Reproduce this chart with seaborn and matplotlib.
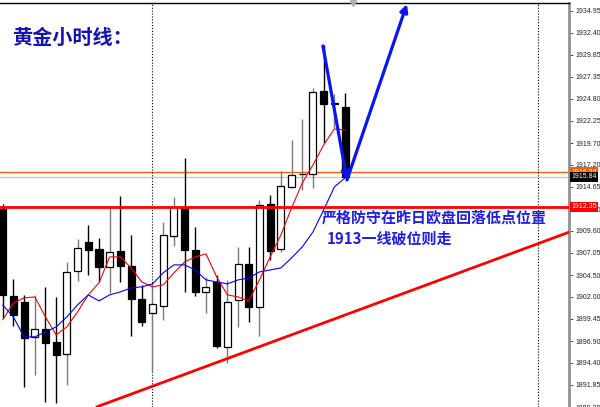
import numpy as np
import pandas as pd
import matplotlib
matplotlib.use("Agg")
import matplotlib.pyplot as plt
import matplotlib.transforms as mtransforms
import seaborn as sns

# ---------------- data ----------------
opens = [1912.12, 1902.10, 1901.41, 1897.38, 1898.30, 1896.80, 1895.42, 1904.98,
         1908.32, 1907.51, 1905.44, 1907.28, 1905.55, 1901.75, 1900.14, 1900.95,
         1909.01, 1912.23, 1907.40, 1902.56, 1903.71, 1896.23, 1901.64, 1905.78,
         1900.83, 1912.69, 1907.51, 1914.65, 1916.09, 1916.15, 1925.70, 1924.21,
         1923.86]
highs = [1912.69, 1904.06, 1902.22, 1902.22, 1903.14, 1901.98, 1906.01, 1908.66,
         1910.28, 1908.78, 1912.35, 1913.61, 1909.12, 1903.37, 1903.60, 1910.62,
         1913.50, 1917.99, 1910.04, 1904.29, 1904.52, 1903.94, 1907.74, 1907.74,
         1913.15, 1913.73, 1916.49, 1920.06, 1922.48, 1926.05, 1931.00, 1925.36,
         1925.47]
lows = [1899.57, 1898.65, 1891.62, 1893.00, 1889.90, 1889.78, 1891.85, 1903.83,
        1904.52, 1903.71, 1902.45, 1903.71, 1897.49, 1898.65, 1893.35, 1899.34,
        1907.86, 1902.56, 1902.10, 1900.14, 1896.11, 1894.39, 1898.53, 1899.11,
        1897.49, 1906.25, 1907.17, 1914.54, 1914.31, 1914.54, 1919.72, 1921.44,
        1915.84]
closes = [1902.22, 1899.91, 1897.26, 1898.30, 1896.69, 1895.31, 1904.86, 1907.63,
          1907.40, 1905.44, 1907.17, 1905.55, 1901.75, 1899.11, 1901.18, 1909.12,
          1912.35, 1907.40, 1902.56, 1903.14, 1896.34, 1901.41, 1905.78, 1900.83,
          1912.58, 1907.28, 1914.77, 1916.03, 1916.15, 1925.59, 1924.21, 1924.32,
          1915.84]
ma_fast = [1899.34, 1901.29, 1901.87, 1901.98, 1899.68, 1897.61, 1898.53, 1900.26,
           1902.22, 1903.60, 1906.59, 1906.59, 1905.32, 1903.71, 1903.14, 1903.37,
           1904.75, 1906.01, 1906.59, 1906.94, 1904.29, 1902.22, 1901.98, 1901.52,
           1903.94, 1906.59, 1909.12, 1912.23, 1915.11, 1917.18, 1919.49, 1921.33,
           1921.21]
ma_slow = [1901.06, 1899.68, 1897.38, 1897.38, 1897.96, 1898.53, 1899.68, 1901.06,
           1902.22, 1901.52, 1902.22, 1902.56, 1903.02, 1903.14, 1903.48, 1904.75,
           1905.67, 1905.67, 1905.09, 1903.94, 1903.71, 1903.48, 1903.94, 1904.17,
           1904.86, 1905.09, 1905.32, 1906.48, 1907.74, 1909.47, 1912.00, 1914.65,
           1915.69]

ytick_values = [1934.95, 1932.40, 1929.85, 1927.35, 1924.80, 1922.25, 1919.70,
                1917.20, 1914.65, 1912.10, 1909.60, 1907.05, 1904.50, 1902.00,
                1899.45, 1896.90, 1894.40, 1891.85, 1889.30]

support_level = 1912.35
ask_level = 1916.34
bid_level = 1915.84
day_separators = [14, 50]
trend_x = [8.8, 53.0]
trend_y = [1889.32, 1909.47]
arrow_pts_x = [29.93, 32.18, 37.78]
arrow_pts_y = [1930.89, 1915.46, 1935.72]

title_text = "黄金小时线："
note_line1 = "严格防守在昨日欧盘回落低点位置"
note_line2 = "1913一线破位则走"

# ---------------- figure ----------------
sns.set_theme(style="white")
plt.rcParams["font.family"] = ["DejaVu Sans"]

fig = plt.figure(figsize=(6.0, 4.07), dpi=100)
fig.patch.set_facecolor("white")
ax = fig.add_axes([0, 0, 569 / 600, 404 / 407])
ax.set_facecolor("white")

idx = np.arange(len(opens))
o = np.array(opens); c = np.array(closes)
h = np.array(highs); l = np.array(lows)
bull = c >= o

# wicks
wick_colors = ["#7a7a7a" if b else "black" for b in bull]
ax.vlines(idx, l, h, colors=wick_colors, linewidth=1.0, zorder=2)
# bodies
bottoms = np.minimum(o, c)
heights = np.abs(c - o)
faces = ["white" if b else "black" for b in bull]
ax.bar(idx, heights, bottom=bottoms, width=0.66, color=faces,
       edgecolor="black", linewidth=0.9, zorder=3)

# moving averages through seaborn
df = pd.DataFrame({"bar": idx, "fast": ma_fast, "slow": ma_slow})
sns.lineplot(data=df, x="bar", y="fast", color="#ff0000", linewidth=0.8, ax=ax, zorder=4)
sns.lineplot(data=df, x="bar", y="slow", color="#0000ff", linewidth=0.8, ax=ax, zorder=4)

# horizontal levels
ax.axhline(bid_level, color="#c8c8c8", linewidth=1.0, zorder=1)
ax.axhline(ask_level, color="#ff5a00", linewidth=1.0, zorder=1)
ax.axhline(support_level, color="#ff0000", linewidth=2.0, zorder=5)

# trend line
ax.plot(trend_x, trend_y, color="#ff0000", linewidth=2.0, zorder=5, clip_on=True)

# day separators
for d in day_separators:
    ax.axvline(d, color="black", linestyle=(0, (1, 1.6)), linewidth=0.8, zorder=1)

# arrows
for k in range(2):
    ax.annotate("", xy=(arrow_pts_x[k + 1], arrow_pts_y[k + 1]),
                xytext=(arrow_pts_x[k], arrow_pts_y[k]),
                arrowprops=dict(arrowstyle="-|>", color="#0a14f0", lw=2.3,
                                mutation_scale=11, shrinkA=0, shrinkB=0),
                annotation_clip=False, zorder=6)

# small shift marker at top
ax.plot([32.7], [1], transform=mtransforms.blended_transform_factory(ax.transData, ax.transAxes),
        marker="v", color="#b0b0b0", markersize=4, clip_on=False, zorder=7)

ax.set_xlim(-0.25, 52.93)
ax.set_ylim(1889.32, 1935.84)
ax.set_xticks([])
ax.set_xlabel("")
ax.set_ylabel("")
ax.yaxis.tick_right()
ax.set_yticks(ytick_values)
ax.set_yticklabels([f"{v:.2f}" for v in ytick_values],
                   fontsize=5, family=["Liberation Sans Narrow", "Liberation Sans", "DejaVu Sans"])
ax.tick_params(axis="y", which="both", right=True, length=3, width=0.6,
               pad=1.5, colors="#333333", labelcolor="#222222")

for side in ["left", "bottom"]:
    ax.spines[side].set_visible(False)
ax.spines["top"].set_color("black")
ax.spines["top"].set_linewidth(1.0)
ax.spines["right"].set_color("#909090")
ax.spines["right"].set_linewidth(2.0)

# price tags on the right axis
trans = mtransforms.blended_transform_factory(ax.transAxes, ax.transData)
for val, col in [(ask_level, "#ff5a00"), (bid_level, "black"), (support_level, "#ff0000")]:
    ax.text(1.004, val, f"{val:.2f}", transform=trans, fontsize=5, color="white",
            va="center", ha="left", clip_on=False, zorder=10,
            family=["Liberation Sans Narrow", "Liberation Sans", "DejaVu Sans"],
            bbox=dict(boxstyle="square,pad=0.2", fc=col, ec="none"))

# texts
fig.text(12 / 600, 1 - 37 / 407, title_text, fontsize=14.5, fontweight="bold",
         color="#1414b4", va="center", ha="left",
         family=["Noto Sans CJK SC", "DejaVu Sans"])
fig.text(322 / 600, 1 - 218 / 407, note_line1, fontsize=10.8, fontweight="bold",
         color="#1e1ee6", va="center", ha="left",
         family=["Noto Sans CJK SC", "DejaVu Sans"])
fig.text(327 / 600, 1 - 239 / 407, note_line2, fontsize=10.8, fontweight="bold",
         color="#1e1ee6", va="center", ha="left",
         family=["Noto Sans CJK SC", "DejaVu Sans"])

fig.savefig("out.png", dpi=100, facecolor="white")
